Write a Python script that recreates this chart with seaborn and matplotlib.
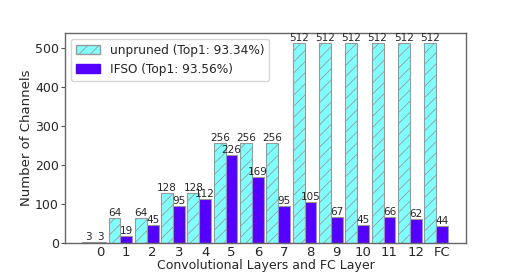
import numpy as np
import pandas as pd
import seaborn as sns
import matplotlib
matplotlib.use("Agg")
import matplotlib.pyplot as plt
from matplotlib.patches import Patch

layers = ["0", "1", "2", "3", "4", "5", "6", "7", "8", "9", "10", "11", "12", "FC"]
unpruned = [3, 64, 64, 128, 128, 256, 256, 256, 512, 512, 512, 512, 512, 512]
ifso = [3, 19, 45, 95, 112, 226, 169, 95, 105, 67, 45, 66, 62, 44]
label_unpruned = "unpruned (Top1: 93.34%)"
label_ifso = "IFSO (Top1: 93.56%)"

sns.set_style("white")
plt.rcParams['font.family'] = ['DejaVu Sans']
plt.rcParams['hatch.color'] = '#999999'
plt.rcParams['hatch.linewidth'] = 0.6

W = 0.45
pos = np.arange(len(layers))
df_u = pd.DataFrame({"x": pos - W, "y": unpruned})
df_i = pd.DataFrame({"x": pos.astype(float), "y": ifso})

fig = plt.figure(figsize=(5.18, 2.73), dpi=100)
ax = fig.add_axes([65/518, 1 - 243/273, (466-65)/518, (243-33)/273])

c_u = "#80ffff"
c_i = "#5500ff"
sns.barplot(data=df_u, x="x", y="y", native_scale=True, width=W, color=c_u,
            saturation=1, edgecolor="#999999", linewidth=0.8, ax=ax, errorbar=None)
n_u = len(ax.patches)
sns.barplot(data=df_i, x="x", y="y", native_scale=True, width=W, color=c_i,
            saturation=1, edgecolor="#999999", linewidth=0.8, ax=ax, errorbar=None)
for p in ax.patches[:n_u]:
    p.set_hatch("///")

for cont in ax.containers:
    ax.bar_label(cont, fontsize=7.5, padding=0)

ax.set_xticks(pos)
ax.set_xticklabels(layers, fontsize=9.5)
ax.set_yticks([0, 100, 200, 300, 400, 500])
ax.tick_params(axis='y', labelsize=9, left=True, length=3, pad=1.5, color='#555555')
ax.tick_params(axis='x', bottom=False, length=0, pad=2)
ax.set_xlabel("Convolutional Layers and FC Layer", fontsize=9, labelpad=0)
ax.set_ylabel("Number of Channels", fontsize=9.5, labelpad=1)
ax.set_xlim(-1.33, 13.91)
ax.set_ylim(0, 537.6)
for s in ax.spines.values():
    s.set_color("#666666")
    s.set_linewidth(1)

handles = [Patch(facecolor=c_u, edgecolor="#999999", hatch="///", label=label_unpruned),
           Patch(facecolor=c_i, edgecolor=c_i, label=label_ifso)]
ax.legend(handles=handles, loc="upper left", fontsize=8.7, frameon=True)

fig.savefig("out.png", dpi=100)
